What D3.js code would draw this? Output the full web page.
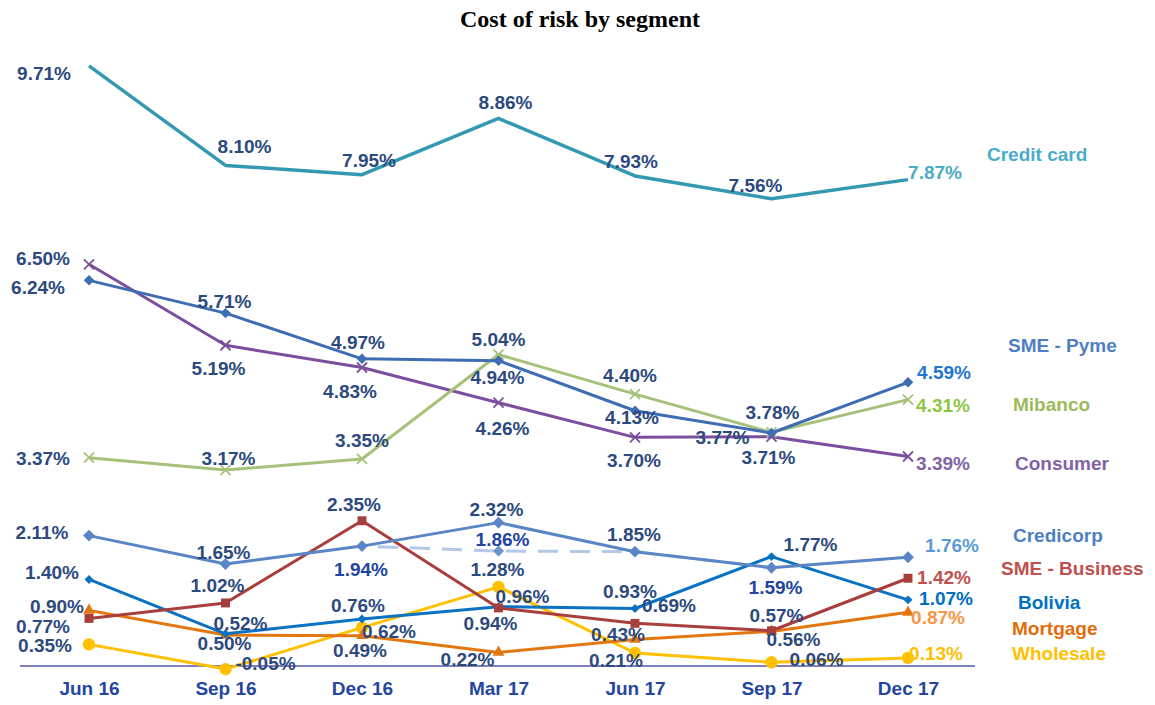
<!DOCTYPE html>
<html>
<head>
	<style>
	body {
		margin: 0;
		background: #fff;
	}
	text {
		font-family: "Liberation Sans", Arial, sans-serif;
		font-weight: bold;
	}
	</style>
</head>
<body>
	<script src="https://d3js.org/d3.v7.min.js"></script>
	<script>
	var quarters = ["Jun 16", "Sep 16", "Dec 16", "Mar 17", "Jun 17", "Sep 17", "Dec 17"];

	var seriesNames = ["Credit card", "SME - Pyme", "Mibanco", "Consumer", "Credicorp", "SME - Business", "Bolivia", "Mortgage", "Wholesale"];

	var creditCard   = [9.71, 8.10, 7.95, 8.86, 7.93, 7.56, 7.87];
	var smePyme      = [6.24, 5.71, 4.97, 4.94, 4.13, 3.77, 4.59];
	var mibanco      = [3.37, 3.17, 3.35, 5.04, 4.40, 3.78, 4.31];
	var consumer     = [6.50, 5.19, 4.83, 4.26, 3.70, 3.71, 3.39];
	var credicorp    = [2.11, 1.65, 1.94, 2.32, 1.85, 1.59, 1.76];
	var credicorpAdj = [null, null, 1.94, 1.86, 1.85, 1.59, null];
	var smeBusiness  = [0.77, 1.02, 2.35, 0.94, 0.69, 0.57, 1.42];
	var bolivia      = [1.40, 0.52, 0.76, 0.96, 0.93, 1.77, 1.07];
	var mortgage     = [0.90, 0.50, 0.49, 0.22, 0.43, 0.56, 0.87];
	var wholesale    = [0.35, -0.05, 0.62, 1.28, 0.21, 0.06, 0.13];

	var width = 1155, height = 705;

	var svg = d3.select("body").append("svg")
		.attr("width", width)
		.attr("height", height);

	var x = d3.scalePoint()
		.domain(quarters)
		.range([89, 908]);

	var y = d3.scaleLinear()
		.domain([0, 10])
		.range([666, 48]);

	var labelColor = "#2c4a7e";
	var fontSize = "19px";

	// line colour, marker, label nudges (dx, dy from the point), last label colour, legend position
	var series = [
		{ name: seriesNames[0], values: creditCard, line: "#3399b1", marker: "none", legend: "#4bacc6", last: "#4bacc6", width: 3.5,
			off: [[-45, 7], [19, -19], [7, -14], [7, -16], [-4, -15], [-16, -13], [27, -7]], ly: 154, lx: 987 },
		{ name: seriesNames[1], values: smePyme, line: "#3f6db3", marker: "diamond", size: 55, legend: "#4f7fc0", last: "#1f78d0", width: 3,
			off: [[-51, 7], [-1, -12], [-4, -17], [-1, 17], [-3, 7], [-49, 4], [36, -10]], ly: 345, lx: 1008 },
		{ name: seriesNames[2], values: mibanco, line: "#a5c17a", marker: "x", legend: "#9bbb59", last: "#8cc63f", width: 3,
			off: [[-46, 1], [3, -12], [0, -19], [0, -15], [-5, -19], [1, -20], [35, 6]], ly: 404, lx: 1013 },
		{ name: seriesNames[3], values: consumer, line: "#7b4f9d", marker: "x", legend: "#8064a2", last: "#8064a2", width: 3,
			off: [[-46, -6], [-7, 23], [-12, 24], [4, 26], [-1, 23], [-3, 21], [35, 7]], ly: 463, lx: 1015 },
		{ name: seriesNames[4], values: credicorp, line: "#5a85c6", marker: "diamond", size: 70, legend: "#4f7fc0", last: "#5b9bd5", width: 3,
			off: [[-47, -3], [-2, -12], [-1, 23], [-2, -13], [-1, -17], [4, 20], [44, -12]], ly: 535, lx: 1013,
			special: { 2: "#2244a0", 5: "#2244a0" } },
		{ name: seriesNames[5], values: smeBusiness, line: "#a83f3c", marker: "square", size: 80, legend: "#c0504d", last: "#c0504d", width: 3,
			off: [[-46, 8], [-8, -18], [-8, -16], [-8, 15], [34, -18], [5, -15], [36, -1]], ly: 568, lx: 1001 },
		{ name: seriesNames[6], values: bolivia, line: "#0a72c2", marker: "diamond", size: 40, legend: "#0070c0", last: "#0070c0", width: 3,
			off: [[-37, -7], [15, -11], [-4, -14], [24, -10], [-5, -17], [39, -12], [38, -2]], ly: 602, lx: 1018 },
		{ name: seriesNames[7], values: mortgage, line: "#e2770f", marker: "triangle", size: 60, legend: "#e36c0a", last: "#f79646", width: 3,
			off: [[-32, -4], [-1, 8], [-2, 15], [-31, 7], [-17, -5], [22, 8], [30, 5]], ly: 628, lx: 1012 },
		{ name: seriesNames[8], values: wholesale, line: "#ffc000", marker: "circle", size: 120, legend: "#ffc000", last: "#ffc000", width: 3,
			off: [[-44, 1], [40, -6], [27, 4], [-1, -18], [-19, 7], [45, -3], [28, -5]], ly: 653, lx: 1012 }
	];

	var line = d3.line()
		.defined(function(d){ return d != null; })
		.x(function(d, i){ return x(quarters[i]); })
		.y(function(d){ return y(d); });

	// title
	svg.append("text")
		.attr("x", 580)
		.attr("y", 27)
		.attr("text-anchor", "middle")
		.style("font-family", "'Liberation Serif', 'Times New Roman', serif")
		.style("font-size", "24px")
		.style("fill", "#000")
		.text("Cost of risk by segment");

	// zero line
	svg.append("line")
		.attr("x1", 20)
		.attr("x2", 975)
		.attr("y1", y(0))
		.attr("y2", y(0))
		.style("stroke", "#8080bd")
		.style("stroke-width", 2);

	// x axis labels
	var xAxis = d3.axisBottom(x).tickSize(0).tickPadding(16);
	var gx = svg.append("g")
		.attr("transform", "translate(0," + y(0) + ")")
		.call(xAxis);
	gx.select(".domain").remove();
	gx.selectAll("text")
		.style("font-family", "'Liberation Sans', Arial, sans-serif")
		.style("font-weight", "bold")
		.style("font-size", fontSize)
		.style("fill", "#2546a0");

	// adjusted credicorp (dashed)
	svg.append("path")
		.attr("d", line(credicorpAdj))
		.style("fill", "none")
		.style("stroke", "#b2c8e8")
		.style("stroke-width", 3)
		.style("stroke-dasharray", "20,12")
		.style("stroke-dashoffset", -16);

	function markerPath(type, size){
		if (type == "diamond") return d3.symbol().type(d3.symbolSquare).size(size)();
		if (type == "square") return d3.symbol().type(d3.symbolSquare).size(size)();
		if (type == "triangle") return d3.symbol().type(d3.symbolTriangle).size(size)();
		if (type == "circle") return d3.symbol().type(d3.symbolCircle).size(size)();
		return "M-5,-5L5,5M-5,5L5,-5";
	}

	series.slice().reverse().forEach(function(s){
		var g = svg.append("g");

		g.append("path")
			.attr("d", line(s.values))
			.style("fill", "none")
			.style("stroke", s.line)
			.style("stroke-width", s.width)
			.style("stroke-linejoin", "round");

		if (s.marker != "none"){
			g.selectAll(".mk")
				.data(s.values)
				.enter().append("path")
				.attr("class", "mk")
				.attr("transform", function(d, i){
					return "translate(" + x(quarters[i]) + "," + y(d) + ")" + (s.marker == "diamond" ? " rotate(45)" : "");
				})
				.attr("d", markerPath(s.marker, s.size))
				.style("fill", s.marker == "x" ? "none" : s.line)
				.style("stroke", s.line)
				.style("stroke-width", s.marker == "x" ? 1.8 : 0);
		}
	});

	// adjusted credicorp marker at Mar 17
	svg.append("path")
		.attr("transform", "translate(" + x(quarters[3]) + "," + y(credicorpAdj[3]) + ") rotate(45)")
		.attr("d", markerPath("diamond", 60))
		.style("fill", "#6d92cc");

	// data labels and series names
	series.forEach(function(s){
		svg.append("g").selectAll("text")
			.data(s.values)
			.enter().append("text")
			.attr("x", function(d, i){ return x(quarters[i]) + s.off[i][0]; })
			.attr("y", function(d, i){ return y(d) + s.off[i][1]; })
			.attr("dy", "0.35em")
			.attr("text-anchor", "middle")
			.style("font-size", fontSize)
			.style("fill", function(d, i){
				if (i == quarters.length - 1) return s.last;
				if (s.special && s.special[i]) return s.special[i];
				return labelColor;
			})
			.text(function(d){ return d.toFixed(2) + "%"; });

		svg.append("text")
			.attr("x", s.lx)
			.attr("y", s.ly)
			.attr("dy", "0.35em")
			.style("font-size", fontSize)
			.style("fill", s.legend)
			.text(s.name);
	});

	svg.append("text")
		.attr("x", x(quarters[3]) + 4)
		.attr("y", y(credicorpAdj[3]) - 12)
		.attr("dy", "0.35em")
		.attr("text-anchor", "middle")
		.style("font-size", fontSize)
		.style("fill", "#2244a0")
		.text(credicorpAdj[3].toFixed(2) + "%");
	</script>
</body>
</html>
